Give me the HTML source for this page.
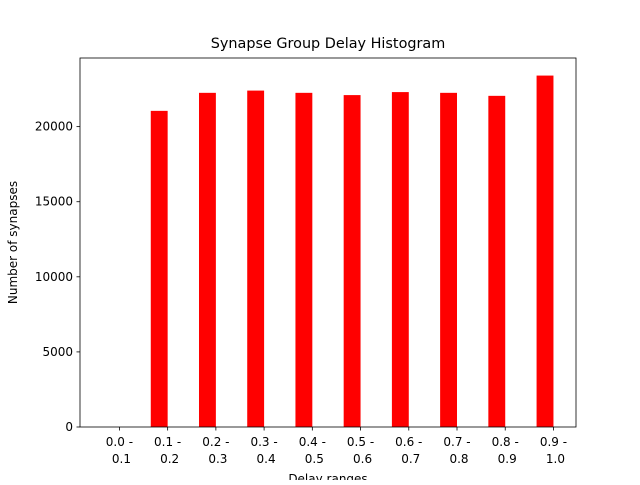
<!DOCTYPE html>
<html><head><meta charset="utf-8"><style>
body{margin:0;background:#fff}
svg text{font-family:"DejaVu Sans","Liberation Sans",sans-serif;fill:#000}
</style></head><body>
<svg id="c" width="640" height="480" xmlns="http://www.w3.org/2000/svg"></svg>
<script>
const categories=["0.0 -|0.1","0.1 -|0.2","0.2 -|0.3","0.3 -|0.4","0.4 -|0.5","0.5 -|0.6","0.6 -|0.7","0.7 -|0.8","0.8 -|0.9","0.9 -|1.0"];
const counts=[0,21050,22250,22400,22250,22100,22300,22250,22050,23400];
const yTicks=[0,5000,10000,15000,20000];
const L=80,R=576,T=58,B=427,W=0.35;
const xmin=-W/2-(counts.length-1+W)*0.05, xmax=counts.length-1+W/2+(counts.length-1+W)*0.05;
const ymax=Math.max(...counts)*1.05;
const X=v=>L+(v-xmin)/(xmax-xmin)*(R-L);
const Y=v=>B-v/ymax*(B-T);
const s=document.getElementById('c');const NS="http://www.w3.org/2000/svg";
function mk(t,a,p){const e=document.createElementNS(NS,t);for(const k in a)e.setAttribute(k,a[k]);(p||s).appendChild(e);return e;}
counts.forEach((v,i)=>{
 const r=mk('rect',{x:X(i-W/2),y:Y(v),width:X(W)-X(0),height:B-Y(v),fill:'#ff0000'});
 
 
 const tx=X(i+W/2);
 const tk=mk('line',{x1:tx,x2:tx,y1:B,y2:B+3.5,stroke:'#000','stroke-width':0.8});
 
 
 const parts=categories[i].split('|');
 const t=mk('text',{x:tx,y:B+19,'text-anchor':'middle','font-size':'12'});t.textContent=parts[0];
 
 
 const t2=mk('text',{x:tx+2,y:B+36,'text-anchor':'middle','font-size':'12'});t2.textContent=parts[1];
 
 
});
yTicks.forEach(v=>{
 const y=Y(v);
 const tk=mk('line',{x1:L-3.5,x2:L,y1:y,y2:y,stroke:'#000','stroke-width':0.8});
 
 
 const t=mk('text',{x:L-7,y:y+4,'text-anchor':'end','font-size':'12'});t.textContent=v;
 
 
});
const f=mk('rect',{x:L,y:T,width:R-L,height:B-T,fill:'none',stroke:'#000','stroke-width':0.8});


const ti=mk('text',{x:(L+R)/2,y:T-10,'text-anchor':'middle','font-size':'14.4'});ti.textContent='Synapse Group Delay Histogram';


const xl=mk('text',{x:(L+R)/2,y:B+56,'text-anchor':'middle','font-size':'12'});xl.textContent='Delay ranges';


const yl=mk('text',{x:0,y:0,'text-anchor':'middle','font-size':'12',transform:`translate(17,${(T+B)/2}) rotate(-90)`});yl.textContent='Number of synapses';


</script>
</body></html>
